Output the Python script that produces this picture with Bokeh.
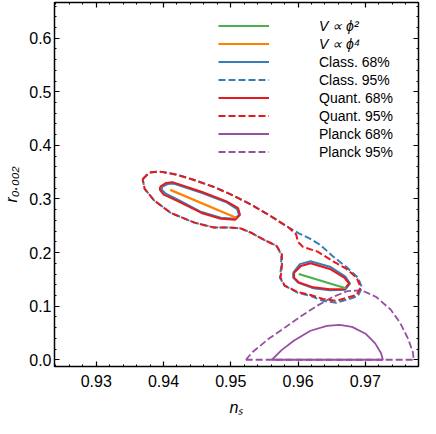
from bokeh.plotting import figure
from bokeh.models import (Range1d, LinearAxis, SingleIntervalTicker, NumeralTickFormatter,
                          CustomJSTickFormatter, Legend, LegendItem)
from bokeh.embed import file_html
from bokeh.resources import INLINE

# ---------------- data ----------------
phi2_ns = [0.9601, 0.9672]
phi2_r = [0.160, 0.133]
phi4_ns = [0.9410, 0.9508]
phi4_r = [0.317, 0.265]

class68_up_ns = [0.93976, 0.94062, 0.94148, 0.94564, 0.94937, 0.95095, 0.95123, 0.95052, 0.94851, 0.94564, 0.94234, 0.94033, 0.93976]
class68_up_r = [0.3225, 0.3279, 0.3288, 0.3117, 0.2937, 0.2811, 0.2703, 0.2631, 0.2649, 0.2757, 0.2973, 0.3099, 0.3171]
class68_lo_ns = [0.95927, 0.96027, 0.96185, 0.96486, 0.96702, 0.96773, 0.96702, 0.96472, 0.96228, 0.95999, 0.95927]
class68_lo_r = [0.1622, 0.1784, 0.1838, 0.1730, 0.1550, 0.1423, 0.1306, 0.1297, 0.1333, 0.1441, 0.1532]

quant68_up_ns = [0.93947, 0.94033, 0.94133, 0.94564, 0.94937, 0.95109, 0.95138, 0.95066, 0.94851, 0.94564, 0.94220, 0.94004, 0.93947]
quant68_up_r = [0.3225, 0.3297, 0.3315, 0.3135, 0.2955, 0.2829, 0.2703, 0.2613, 0.2631, 0.2739, 0.2955, 0.3081, 0.3171]
quant68_lo_ns = [0.95941, 0.96042, 0.96185, 0.96472, 0.96687, 0.96759, 0.96687, 0.96472, 0.96228, 0.96013, 0.95941]
quant68_lo_r = [0.1622, 0.1748, 0.1802, 0.1694, 0.1532, 0.1423, 0.1315, 0.1315, 0.1351, 0.1441, 0.1532]

class95_ns = [0.9369, 0.9379, 0.9393, 0.9418, 0.9442, 0.9475, 0.9504, 0.9532, 0.9561, 0.9586,
              0.9601, 0.9616, 0.9633, 0.9652, 0.9672, 0.9689, 0.9695, 0.9689, 0.9676, 0.9657,
              0.9637, 0.9619, 0.9600, 0.9580, 0.9573, 0.9575, 0.9575, 0.9568, 0.9550, 0.9532,
              0.9515, 0.9497, 0.9475, 0.9446, 0.9411, 0.9386, 0.9372]
class95_r = [0.3369, 0.3495, 0.3514, 0.3459, 0.3369, 0.3225, 0.3063, 0.2883, 0.2667, 0.2468,
             0.2360, 0.2270, 0.2144, 0.1928, 0.1730, 0.1532, 0.1351, 0.1189, 0.1135, 0.1063,
             0.1099, 0.1190, 0.1250, 0.1380, 0.1532, 0.1748, 0.1964, 0.2126, 0.2234, 0.2360,
             0.2450, 0.2468, 0.2468, 0.2559, 0.2739, 0.2973, 0.3189]

quant95_ns = [0.9369, 0.9379, 0.9393, 0.9418, 0.9442, 0.9475, 0.9504, 0.9532, 0.9561, 0.9586,
              0.9597, 0.9600, 0.9607, 0.9629, 0.9652, 0.9672, 0.9687, 0.9693, 0.9687, 0.9676,
              0.9657, 0.9637, 0.9619, 0.9600, 0.9580, 0.9574, 0.9576, 0.9576, 0.9568, 0.9550,
              0.9532, 0.9515, 0.9497, 0.9475, 0.9446, 0.9411, 0.9386, 0.9372]
quant95_r = [0.3369, 0.3495, 0.3514, 0.3459, 0.3369, 0.3225, 0.3063, 0.2883, 0.2667, 0.2468,
             0.2342, 0.2198, 0.2108, 0.2018, 0.1838, 0.1694, 0.1532, 0.1351, 0.1207, 0.1171,
             0.1099, 0.1135, 0.1207, 0.1261, 0.1387, 0.1532, 0.1748, 0.1964, 0.2126, 0.2234,
             0.2360, 0.2450, 0.2468, 0.2468, 0.2559, 0.2739, 0.2973, 0.3189]

planck68_ns = [0.95611, 0.95755, 0.95941, 0.96185, 0.96429, 0.96616, 0.96802, 0.97003, 0.97146, 0.97232, 0.97261]
planck68_r = [0.0, 0.0180, 0.0360, 0.0541, 0.0631, 0.0649, 0.0613, 0.0486, 0.0306, 0.0126, 0.0]

planck95_ns = [0.95224, 0.95324, 0.95568, 0.95798, 0.96042, 0.96286, 0.96515, 0.96730, 0.96945,
               0.97161, 0.97376, 0.97519, 0.97634, 0.97706, 0.97720]
planck95_r = [0.0, 0.0144, 0.0396, 0.0595, 0.0811, 0.1009, 0.1171, 0.1279, 0.1297,
              0.1171, 0.0937, 0.0685, 0.0396, 0.0144, 0.0]

x_ticks_interval = 0.01
y_ticks_interval = 0.1
x_label = "nₛ"
y_label = "r₀.₀₀₂"

GREEN = "#4daf4a"
ORANGE = "#ff7f00"
BLUE = "#377eb8"
RED = "#e41a1c"
PURPLE = "#984ea3"
FONT = "Liberation Sans"


def closed(a):
    return list(a) + [a[0]]


p = figure(width=420, height=418, output_backend="svg", toolbar_location=None,
           x_range=Range1d(0.9238, 0.9779), y_range=Range1d(-0.0126, 0.6667),
           min_border_left=52, min_border_right=2, min_border_top=2, min_border_bottom=48)
p.grid.visible = False
p.outline_line_color = "black"
p.outline_line_width = 1.5
p.background_fill_color = "white"
p.border_fill_color = "white"

for ax in list(p.xaxis):
    ax.ticker = SingleIntervalTicker(interval=x_ticks_interval, num_minor_ticks=5)
    ax.formatter = NumeralTickFormatter(format="0.00")
    ax.major_label_standoff = 8
    ax.axis_label = x_label
    ax.axis_label_standoff = 9
for ax in list(p.yaxis):
    ax.ticker = SingleIntervalTicker(interval=y_ticks_interval, num_minor_ticks=5)
    ax.formatter = NumeralTickFormatter(format="0.0")
    ax.major_label_standoff = 3
    ax.axis_label = y_label
    ax.axis_label_standoff = 6

blank = CustomJSTickFormatter(code="return ''")
top_ax = LinearAxis(ticker=SingleIntervalTicker(interval=x_ticks_interval, num_minor_ticks=5),
                    formatter=blank, major_label_standoff=0)
right_ax = LinearAxis(ticker=SingleIntervalTicker(interval=y_ticks_interval, num_minor_ticks=5),
                      formatter=blank, major_label_standoff=0)
p.add_layout(top_ax, "above")
p.add_layout(right_ax, "right")

for ax in p.axis:
    ax.axis_line_color = None
    ax.major_tick_in = 5
    ax.major_tick_out = 0
    ax.minor_tick_in = 2
    ax.minor_tick_out = 0
    ax.major_tick_line_color = "black"
    ax.minor_tick_line_color = "black"
    ax.major_tick_line_width = 1.2
    ax.minor_tick_line_width = 1
    ax.major_label_text_font = FONT
    ax.major_label_text_font_size = "16px" if ax not in (top_ax, right_ax) else "1px"
    ax.major_label_text_color = "black"
    ax.axis_label_text_font = FONT
    ax.axis_label_text_font_size = "16px"
    ax.axis_label_text_font_style = "italic"
    ax.axis_label_text_color = "black"

DASH = "7 3"
r_p95 = p.line(closed(planck95_ns), closed(planck95_r), line_color=PURPLE, line_width=1.8, line_dash=DASH)
r_p68 = p.line(closed(planck68_ns), closed(planck68_r), line_color=PURPLE, line_width=1.8)
r_c95 = p.line(closed(class95_ns), closed(class95_r), line_color=BLUE, line_width=2, line_dash=DASH)
r_c68 = p.multi_line([closed(class68_up_ns), closed(class68_lo_ns)],
                     [closed(class68_up_r), closed(class68_lo_r)], line_color=BLUE, line_width=2)
r_q95 = p.line(closed(quant95_ns), closed(quant95_r), line_color=RED, line_width=2, line_dash=DASH)
r_q68 = p.multi_line([closed(quant68_up_ns), closed(quant68_lo_ns)],
                     [closed(quant68_up_r), closed(quant68_lo_r)], line_color=RED, line_width=2)
r_phi4 = p.line(phi4_ns, phi4_r, line_color=ORANGE, line_width=2.2)
r_phi2 = p.line(phi2_ns, phi2_r, line_color=GREEN, line_width=2.2)


def make_legend(items, loc, style):
    lg = Legend(items=items, location=loc, orientation="vertical",
                glyph_width=51, glyph_height=17, label_height=17, spacing=1,
                label_standoff=50, padding=0, margin=0,
                label_text_font=FONT, label_text_font_size="14px", label_text_font_style=style,
                label_text_color="black", background_fill_alpha=0, border_line_color=None)
    return lg


leg1 = make_legend([LegendItem(label="V ∝ ϕ²", renderers=[r_phi2]),
                    LegendItem(label="V ∝ ϕ⁴", renderers=[r_phi4])], (164, 314), "italic")
leg2 = make_legend([LegendItem(label="Class. 68%", renderers=[r_c68]),
                    LegendItem(label="Class. 95%", renderers=[r_c95]),
                    LegendItem(label="Quant. 68%", renderers=[r_q68]),
                    LegendItem(label="Quant. 95%", renderers=[r_q95]),
                    LegendItem(label="Planck 68%", renderers=[r_p68]),
                    LegendItem(label="Planck 95%", renderers=[r_p95])], (164, 206), "normal")
p.add_layout(leg1)
p.add_layout(leg2)

open("out.html", "w").write(file_html(p, INLINE))
